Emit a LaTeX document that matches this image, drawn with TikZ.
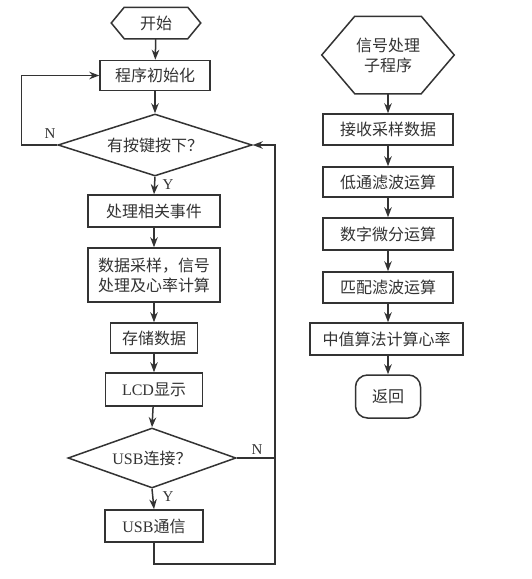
\documentclass[tikz,border=0pt]{standalone}
\usepackage{fontspec}
\setmainfont{Liberation Serif}
\newfontfamily\cjk{Noto Sans CJK SC}
\usetikzlibrary{shapes.geometric,arrows.meta}
\definecolor{ink}{HTML}{333333}
\tikzset{
  base/.style={draw=ink, line width=1.5pt, text=ink, font=\cjk\fontsize{16}{20}\selectfont, inner sep=0pt},
  box/.style={base, rectangle, minimum height=31pt},
  ghost/.style={base, draw=none, rectangle},
  dia/.style={base, diamond},
  arr/.style={draw=ink, line width=1.5pt, -{Stealth[length=10pt,width=7.5pt]}},
  ln/.style={draw=ink, line width=1.5pt},
  lab/.style={text=ink, font=\fontsize{15}{17}\selectfont},
  hexe/.style={draw=ink, line width=1.5pt, line join=miter}
}
\newcommand{\lat}[1]{{\rmfamily #1}}
\begin{document}
\begin{tikzpicture}[x=1pt,y=-1pt]
\useasboundingbox (0,0) rectangle (532,579);
\fill[white] (0,0) rectangle (532,579);
% left column
\node[ghost, minimum width=62pt, minimum height=30pt] (start) at (156,23) {开始};
\draw[hexe] (start.north west) -- (start.north east) -- ([xshift=13pt]start.east) -- (start.south east) -- (start.south west) -- ([xshift=-13pt]start.west) -- cycle;
\node[box, minimum width=110pt, minimum height=30pt] (init) at (155,75.5) {程序初始化};
\node[dia, shape aspect=3.13, minimum width=194pt, minimum height=62pt] (key) at (155,145) {有按键按下？};
\node[box, minimum width=132pt, minimum height=32pt] (evt) at (154,211) {处理相关事件};
\node[box, minimum width=132pt, minimum height=54pt, align=center] (samp) at (154,275) {数据采样，信号\\处理及心率计算};
\node[box, minimum width=87pt, minimum height=30pt] (store) at (154,338) {存储数据};
\node[box, minimum width=97pt, minimum height=33pt] (lcd) at (154,389.5) {\lat{LCD}显示};
\node[dia, shape aspect=2.8, minimum width=168pt, minimum height=60pt] (usb) at (152,458) {\lat{USB}连接？};
\node[box, minimum width=98pt, minimum height=32pt] (usbc) at (154,526) {\lat{USB}通信};

\draw[arr] (start) -- (init);
\draw[arr] (init) -- (key);
\draw[arr] (key.south) -- (evt.north);
\draw[arr] (evt) -- (samp);
\draw[arr] (samp) -- (store);
\draw[arr] (store) -- (lcd);
\draw[arr] (lcd) -- (usb.north);
\draw[arr] (usb.south) -- (usbc.north);
\draw[arr] (key.west) -- ++(-36,0) |- (init.west);
\draw[arr] (usbc.south) -- ++(0,21) -- ++(121,0) |- (key.east);
\draw[ln] (usb.east) -- ++(39,0);

\node[lab] (n1) at (50,134) {N};
\node[lab] (y1) at (168,185) {Y};
\node[lab] (n2) at (257,450) {N};
\node[lab] (y2) at (168,497) {Y};

% right column
\node[ghost, minimum width=65pt, minimum height=76pt, align=center] (sub) at (388,55) {信号处理\\子程序};
\draw[hexe] (sub.north west) -- (sub.north east) -- ([xshift=33pt]sub.east) -- (sub.south east) -- (sub.south west) -- ([xshift=-33pt]sub.west) -- cycle;
\node[box, minimum width=130pt, minimum height=31pt] (recv) at (388,129.5) {接收采样数据};
\node[box, minimum width=130pt, minimum height=30pt] (lpf) at (388,182) {低通滤波运算};
\node[box, minimum width=130pt, minimum height=32pt] (diff) at (388,234) {数字微分运算};
\node[box, minimum width=130pt, minimum height=31pt] (mf) at (388,287.5) {匹配滤波运算};
\node[box, minimum width=153pt, minimum height=32pt] (med) at (386.5,339) {中值算法计算心率};
\node[box, rounded corners=12pt, minimum width=65pt, minimum height=43pt] (ret) at (388,396.5) {返回};

\draw[arr] (sub) -- (recv);
\draw[arr] (recv) -- (lpf);
\draw[arr] (lpf) -- (diff);
\draw[arr] (diff) -- (mf);
\draw[arr] (mf.south) -- (mf.south |- med.north);
\draw[arr] (med.south -| ret.north) -- (ret.north);
\end{tikzpicture}
\end{document}
